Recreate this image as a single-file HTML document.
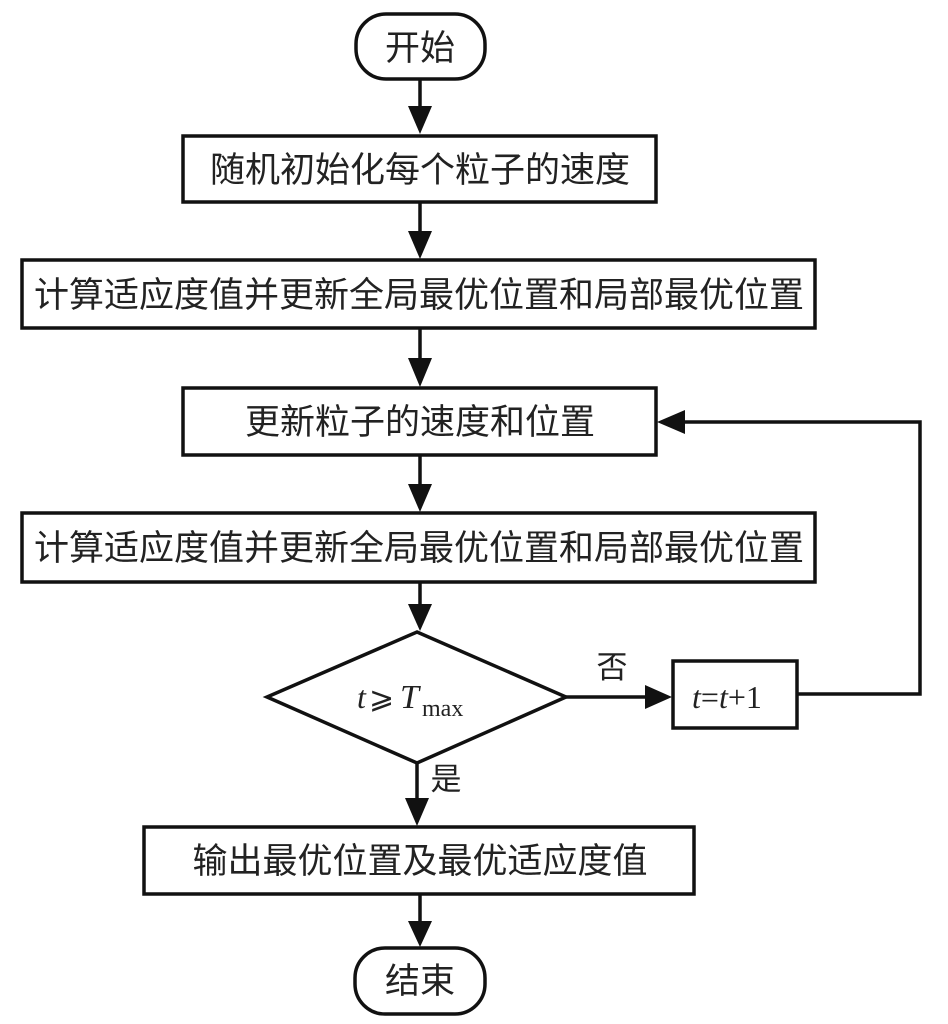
<!DOCTYPE html>
<html><head><meta charset="utf-8"><style>
html,body{margin:0;padding:0;background:#fff;}
svg{display:block;}
text{font-family:"Liberation Sans","Noto Sans CJK SC",sans-serif;font-size:35px;fill:#222;}
.m{font-family:"Liberation Serif","Noto Serif CJK SC",serif;font-style:italic;}
</style></head><body>
<svg width="948" height="1024" viewBox="0 0 948 1024" xmlns="http://www.w3.org/2000/svg">
<g fill="none" stroke="#111" stroke-width="3.5">
<rect x="356" y="14" width="129" height="65" rx="30" ry="30"/>
<rect x="183" y="136" width="473" height="66"/>
<rect x="22" y="260" width="793" height="68"/>
<rect x="183" y="388" width="473" height="67"/>
<rect x="22" y="513" width="793" height="69"/>
<polygon points="417,632 566,697 417,763 267,697"/>
<rect x="673" y="661" width="124" height="67"/>
<rect x="144" y="827" width="550" height="67"/>
<rect x="355" y="948" width="130" height="66" rx="30" ry="30"/>
<line x1="420" y1="79" x2="420" y2="110"/>
<line x1="420" y1="202" x2="420" y2="235"/>
<line x1="420" y1="328" x2="420" y2="362"/>
<line x1="420" y1="455" x2="420" y2="488"/>
<line x1="420" y1="582" x2="420" y2="608"/>
<line x1="417" y1="763" x2="417" y2="802"/>
<line x1="420" y1="894" x2="420" y2="925"/>
<line x1="566" y1="697" x2="648" y2="697"/>
<polyline points="797,694 920,694 920,422 680,422"/>
</g>
<g fill="#111">
<polygon points="408,106 432,106 420,134"/>
<polygon points="408,231 432,231 420,259"/>
<polygon points="408,358 432,358 420,387"/>
<polygon points="408,484 432,484 420,512"/>
<polygon points="408,604 432,604 420,631"/>
<polygon points="405,798 429,798 417,826"/>
<polygon points="408,921 432,921 420,947"/>
<polygon points="645,685 645,709 672,697"/>
<polygon points="685,410 685,434 657,422"/>
</g>
<g text-anchor="middle">
<text x="420" y="60">开始</text>
<text x="420" y="182">随机初始化每个粒子的速度</text>
<text x="419" y="307">计算适应度值并更新全局最优位置和局部最优位置</text>
<text x="420" y="434">更新粒子的速度和位置</text>
<text x="419" y="560">计算适应度值并更新全局最优位置和局部最优位置</text>
<text x="420" y="873">输出最优位置及最优适应度值</text>
<text x="420" y="993">结束</text>
<text x="612" y="678" style="font-size:31px">否</text>
<text x="446" y="790" style="font-size:31px">是</text>
</g>
<text x="357" y="708" class="m" style="font-size:32px">t</text>
<text x="369" y="708" style="font-size:30px">⩾</text>
<text x="400" y="708" class="m" style="font-size:34px">T</text>
<text x="422" y="716" style="font-family:'Liberation Serif',serif;font-size:24px">max</text>
<text x="692" y="708" style="font-family:'Liberation Serif',serif;font-size:32px"><tspan font-style="italic">t</tspan>=<tspan font-style="italic">t</tspan>+1</text>
</svg>
</body></html>
